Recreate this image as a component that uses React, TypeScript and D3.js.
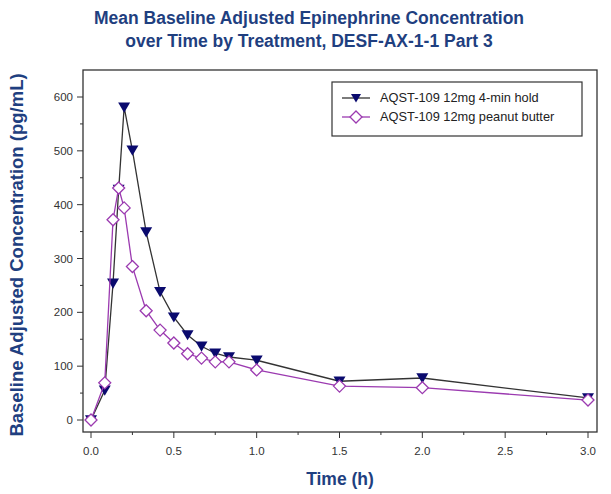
import React from "react";
import * as d3 from "d3";

// time points (h)
const times = [0, 0.083, 0.133, 0.167, 0.2, 0.25, 0.333, 0.417, 0.5, 0.583, 0.667, 0.75, 0.833, 1.0, 1.5, 2.0, 3.0];
const holdValues = [0, 55, 254, 428, 581, 501, 349, 238, 191, 158, 137, 124, 117, 111, 72, 78, 41];
const peanutValues = [0, 69, 372, 431, 394, 285, 203, 167, 143, 123, 115, 108, 108, 93, 63, 60, 37];
const xTicks = [0, 0.5, 1.0, 1.5, 2.0, 2.5, 3.0];
const yTicks = [0, 100, 200, 300, 400, 500, 600];
const seriesNames = ["AQST-109 12mg 4-min hold", "AQST-109 12mg peanut butter"];

const W = 611;
const H = 494;
const frame = { left: 83, top: 70, right: 597, bottom: 432 };
const navy = "#1f3f80";
const holdMarker = "#0a0a6e";
const purple = "#9b3ab0";
const font = "Arial, 'Liberation Sans', sans-serif";

export default function App() {
  const x = d3.scaleLinear().domain([0, 3]).range([91, 588]);
  const y = d3.scaleLinear().domain([0, 600]).range([420, 97]);

  const line = d3
    .line<number>()
    .x((_, i) => x(times[i]))
    .y((d) => y(d));

  const minorX = d3.range(0.25, 3, 0.5);
  const minorY = d3.range(50, 600, 100);

  const tri = (cx: number, cy: number, s = 6) =>
    `M${cx - s},${cy - s * 0.8}L${cx + s},${cy - s * 0.8}L${cx},${cy + s * 0.9}Z`;
  const dia = (cx: number, cy: number, s = 6) =>
    `M${cx},${cy - s}L${cx + s},${cy}L${cx},${cy + s}L${cx - s},${cy}Z`;

  return (
    <svg width={W} height={H} style={{ position: "absolute", left: 0, top: 0 }} fontFamily={font}>
      <rect width={W} height={H} fill="#fff" />
      <text x={309} y={24} textAnchor="middle" fontSize={17.5} fontWeight="bold" fill={navy}>
        Mean Baseline Adjusted Epinephrine Concentration
      </text>
      <text x={309} y={47} textAnchor="middle" fontSize={17.5} fontWeight="bold" fill={navy}>
        over Time by Treatment, DESF-AX-1-1 Part 3
      </text>

      <rect
        x={frame.left}
        y={frame.top}
        width={frame.right - frame.left}
        height={frame.bottom - frame.top}
        fill="none"
        stroke="#333"
        strokeWidth={1.3}
      />

      {/* x axis ticks */}
      {xTicks.map((t) => (
        <g key={`xt-${t}`}>
          <line x1={x(t)} x2={x(t)} y1={frame.bottom} y2={frame.bottom + 6} stroke="#333" />
          <text x={x(t)} y={frame.bottom + 23} textAnchor="middle" fontSize={11.5} fill="#333">
            {t.toFixed(1)}
          </text>
        </g>
      ))}
      {minorX.map((t) => (
        <line key={`xm-${t}`} x1={x(t)} x2={x(t)} y1={frame.bottom} y2={frame.bottom + 3} stroke="#333" />
      ))}

      {/* y axis ticks */}
      {yTicks.map((t) => (
        <g key={`yt-${t}`}>
          <line x1={frame.left - 6} x2={frame.left} y1={y(t)} y2={y(t)} stroke="#333" />
          <text x={frame.left - 10} y={y(t) + 4} textAnchor="end" fontSize={11.5} fill="#333">
            {t}
          </text>
        </g>
      ))}
      {minorY.map((t) => (
        <line key={`ym-${t}`} x1={frame.left - 3} x2={frame.left} y1={y(t)} y2={y(t)} stroke="#333" />
      ))}

      <text x={340} y={485} textAnchor="middle" fontSize={17.5} fontWeight="bold" fill={navy}>
        Time (h)
      </text>
      <text
        transform={`translate(23, 255) rotate(-90)`}
        textAnchor="middle"
        fontSize={18.5}
        fontWeight="bold"
        fill={navy}
      >
        Baseline Adjusted Concentration (pg/mL)
      </text>

      {/* series */}
      <path d={line(holdValues) ?? ""} fill="none" stroke="#333" strokeWidth={1.3} />
      {holdValues.map((v, i) => (
        <path key={`h-${i}`} d={tri(x(times[i]), y(v))} fill={holdMarker} />
      ))}
      <path d={line(peanutValues) ?? ""} fill="none" stroke={purple} strokeWidth={1.3} />
      {peanutValues.map((v, i) => (
        <path key={`p-${i}`} d={dia(x(times[i]), y(v))} fill="#fff" stroke={purple} strokeWidth={1.3} />
      ))}

      {/* legend */}
      <rect x={332} y={82} width={250} height={54} fill="#fff" stroke="#333" strokeWidth={1.2} />
      <line x1={342} x2={370} y1={98} y2={98} stroke="#333" strokeWidth={1.3} />
      <path d={tri(356, 98, 5)} fill={holdMarker} />
      <text x={380} y={102} fontSize={12.8} fill="#222">
        {seriesNames[0]}
      </text>
      <line x1={342} x2={370} y1={117} y2={117} stroke={purple} strokeWidth={1.3} />
      <path d={dia(356, 117, 6)} fill="#fff" stroke={purple} strokeWidth={1.3} />
      <text x={380} y={121} fontSize={12.8} fill="#222">
        {seriesNames[1]}
      </text>
    </svg>
  );
}
